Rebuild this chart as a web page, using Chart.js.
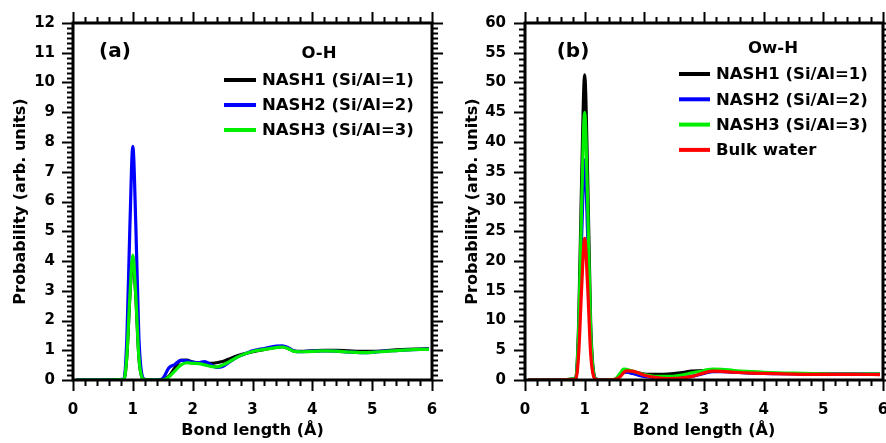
<!DOCTYPE html>
<html>
<head>
<meta charset="utf-8">
<script src="https://cdn.jsdelivr.net/npm/chart.js@4/dist/chart.umd.min.js"></script>
<style>
  html, body { margin: 0; padding: 0; background: #fff; overflow: hidden; }
  #wrap { display: flex; width: 886px; height: 443px; overflow: hidden; }
  canvas { display: block; flex: none; }
</style>
</head>
<body>
<div id="wrap">
  <canvas id="panelA" width="443" height="443"></canvas>
  <canvas id="panelB" width="463" height="443"></canvas>
</div>
<script>
// ---- data ----
const seriesNames = ["NASH1 (Si/Al=1)", "NASH2 (Si/Al=2)", "NASH3 (Si/Al=3)", "Bulk water"];
const xTickLabels = ["0", "1", "2", "3", "4", "5", "6"];

// (a) O-H
const xOH = [0.05, 0.5, 0.85, 0.9, 0.95, 1.0, 1.05, 1.1, 1.15, 1.2, 1.3, 1.4, 1.5, 1.6, 1.7, 1.8, 1.9, 2.0, 2.1, 2.2, 2.3,
  2.4, 2.5, 2.6, 2.7, 2.8, 2.9, 3.0, 3.2, 3.4, 3.5, 3.6, 3.7, 3.8, 4.0, 4.2, 4.4, 4.6, 4.8, 5.0, 5.2, 5.4, 5.6, 5.8, 5.95];
const nash1OH = [0, 0, 0.02, 0.8, 2.8, 4.1, 2.8, 0.8, 0.1, 0.01, 0, 0, 0.02, 0.12, 0.4, 0.66, 0.67, 0.6, 0.58, 0.58, 0.56,
  0.58, 0.62, 0.7, 0.78, 0.85, 0.9, 0.95, 1.03, 1.1, 1.12, 1.06, 0.97, 0.96, 0.98, 1.0, 1.0, 0.98, 0.96, 0.96, 0.98, 1.01, 1.03, 1.04, 1.05];
const nash2OH = [0, 0, 0.03, 1.4, 5.1, 7.85, 5.2, 1.5, 0.2, 0.02, 0, 0, 0.05, 0.4, 0.52, 0.66, 0.65, 0.6, 0.58, 0.62, 0.52,
  0.42, 0.45, 0.58, 0.72, 0.82, 0.9, 0.98, 1.06, 1.14, 1.15, 1.08, 0.97, 0.95, 0.97, 0.98, 0.97, 0.94, 0.92, 0.93, 0.97, 0.99, 1.01, 1.03, 1.04];
const nash3OH = [0, 0, 0.02, 0.8, 2.8, 4.2, 2.8, 0.8, 0.1, 0.01, 0, 0, 0, 0.1, 0.3, 0.5, 0.58, 0.56, 0.55, 0.51, 0.46,
  0.44, 0.5, 0.6, 0.72, 0.82, 0.9, 0.96, 1.03, 1.09, 1.11, 1.05, 0.96, 0.95, 0.96, 0.98, 0.97, 0.94, 0.92, 0.93, 0.96, 0.99, 1.01, 1.03, 1.03];
const yTicksOH = ["0", "1", "2", "3", "4", "5", "6", "7", "8", "9", "10", "11", "12"];

// (b) Ow-H
const xOwH = [0.05, 0.5, 0.85, 0.9, 0.95, 1.0, 1.05, 1.1, 1.15, 1.2, 1.3, 1.4, 1.5, 1.6, 1.65, 1.7, 1.8, 1.9, 2.0, 2.2,
  2.4, 2.6, 2.8, 3.0, 3.15, 3.3, 3.5, 3.8, 4.0, 4.5, 5.0, 5.5, 5.95];
const nash1OwH = [0, 0, 0.3, 9.7, 34, 51.3, 34, 9.7, 1.3, 0.1, 0, 0, 0.05, 0.9, 1.3, 1.5, 1.4, 1.2, 1.0, 0.95,
  1.0, 1.2, 1.5, 1.6, 1.6, 1.5, 1.35, 1.2, 1.15, 1.05, 1.0, 1.0, 1.0];
const nash2OwH = [0, 0, 0.2, 7, 24.4, 37, 24.4, 7, 0.9, 0.1, 0, 0, 0.05, 0.8, 1.2, 1.3, 1.1, 0.8, 0.6, 0.4,
  0.3, 0.35, 0.6, 1.1, 1.4, 1.4, 1.3, 1.2, 1.1, 1.05, 1.0, 1.0, 0.95];
const nash3OwH = [0, 0, 0.3, 8.5, 29.7, 45, 29.7, 8.5, 1.1, 0.1, 0, 0, 0.1, 1.2, 1.85, 1.8, 1.5, 1.2, 0.9, 0.6,
  0.6, 0.8, 1.2, 1.6, 1.85, 1.8, 1.6, 1.4, 1.3, 1.15, 1.05, 1.0, 1.0];
const bulkOwH = [0, 0, 0.15, 4.5, 15.7, 23.8, 15.7, 4.5, 0.6, 0.05, 0, 0, 0.05, 0.6, 1.2, 1.55, 1.5, 1.2, 0.8, 0.4,
  0.25, 0.3, 0.6, 1.2, 1.5, 1.45, 1.3, 1.15, 1.1, 1.0, 0.95, 0.95, 0.9];
const yTicksOwH = ["0", "5", "10", "15", "20", "25", "30", "35", "40", "45", "50", "55", "60"];

const colors = ["#000000", "#0000ff", "#00ee00", "#ff0000"];

Chart.defaults.font.family = "'DejaVu Sans', sans-serif";
Chart.defaults.font.weight = "bold";
Chart.defaults.color = "#000";

function pts(xs, ys) {
  return xs.map((x, i) => ({ x: x, y: ys[i] }));
}

// frame with outward ticks on all four sides
const framePlugin = {
  id: "frame",
  afterDraw(chart, args, o) {
    const { ctx, chartArea: a, scales: { x, y } } = chart;
    ctx.save();
    ctx.strokeStyle = "#000";
    ctx.lineWidth = 2;
    const nx = Math.round((x.max - x.min) / o.xMinor);
    for (let i = 0; i <= nx; i++) {
      const px = Math.round(x.getPixelForValue(x.min + i * o.xMinor)) + 0.5;
      const len = i % o.xPer === 0 ? 11 : 6;
      ctx.beginPath();
      ctx.moveTo(px, a.bottom); ctx.lineTo(px, a.bottom + len);
      ctx.moveTo(px, a.top); ctx.lineTo(px, a.top - len);
      ctx.stroke();
    }
    const ny = Math.round((y.max - y.min) / o.yMinor);
    for (let i = 0; i <= ny; i++) {
      const py = Math.round(y.getPixelForValue(y.min + i * o.yMinor)) + 0.5;
      const len = i % o.yPer === 0 ? 11 : 6;
      ctx.beginPath();
      ctx.moveTo(a.left, py); ctx.lineTo(a.left - len, py);
      ctx.moveTo(a.right, py); ctx.lineTo(a.right + len, py);
      ctx.stroke();
    }
    ctx.lineWidth = 3;
    ctx.strokeRect(a.left, a.top, a.right - a.left, a.bottom - a.top);
    ctx.restore();
  }
};

// panel tag, heading and in-plot legend
const notesPlugin = {
  id: "notes",
  afterDraw(chart, args, o) {
    const ctx = chart.ctx;
    ctx.save();
    ctx.fillStyle = "#000";
    ctx.textBaseline = "middle";
    ctx.textAlign = "center";
    ctx.font = "bold 20px 'DejaVu Sans'";
    ctx.fillText(o.tag, o.tagX, o.tagY);
    ctx.font = "bold 16.5px 'DejaVu Sans'";
    ctx.fillText(o.head, o.headX, o.headY);
    ctx.textAlign = "left";
    chart.data.datasets.forEach((ds, i) => {
      const yy = o.rowY + i * o.rowGap;
      ctx.strokeStyle = ds.borderColor;
      ctx.lineWidth = 4;
      ctx.beginPath();
      ctx.moveTo(o.lineX1, yy); ctx.lineTo(o.lineX2, yy);
      ctx.stroke();
      ctx.fillText(ds.label, o.textX, yy + 1);
    });
    ctx.restore();
  }
};

function makePanel(id, xs, seriesList, yMax, yStep, yTickLabels, yMinor, layout, notes) {
  const datasets = seriesList.map((ys, i) => ({
    label: seriesNames[i],
    data: pts(xs, ys),
    borderColor: colors[i],
    borderWidth: 3.2,
    pointRadius: 0,
    tension: 0.4,
    cubicInterpolationMode: "monotone",
    fill: false,
    order: seriesList.length - i
  }));
  return new Chart(document.getElementById(id), {
    type: "line",
    data: { datasets: datasets },
    plugins: [framePlugin, notesPlugin],
    options: {
      responsive: false,
      animation: false,
      layout: { padding: { top: 23, right: layout.right, left: 0, bottom: 0 } },
      plugins: {
        legend: { display: false },
        tooltip: { enabled: false },
        frame: { xMinor: 0.2, xPer: 5, yMinor: yMinor, yPer: Math.round(yStep / yMinor) },
        notes: notes
      },
      scales: {
        x: {
          type: "linear",
          min: 0, max: 6,
          grid: { display: false, drawTicks: true, tickLength: 21 },
          border: { display: false },
          ticks: {
            stepSize: 1,
            padding: 0,
            font: { size: 15, weight: "bold" },
            color: "#000",
            callback: (v) => xTickLabels[Math.round(v)]
          },
          title: { display: true, text: "Bond length (\u00c5)", font: { size: 16, weight: "bold" }, padding: { top: 0, bottom: 3 } },
          afterFit: (s) => { s.height = 63; }
        },
        y: {
          min: 0, max: yMax,
          grid: { display: false, drawTicks: true, tickLength: layout.yPad },
          border: { display: false },
          ticks: {
            stepSize: yStep,
            padding: 0,
            font: { size: 15, weight: "bold" },
            color: "#000",
            callback: (v) => yTickLabels[Math.round(v / yStep)]
          },
          title: { display: true, text: "Probability (arb. units)", font: { size: 16, weight: "bold" }, padding: { top: layout.titlePad, bottom: 0 } },
          afterFit: (s) => { s.width = layout.axisW; }
        }
      }
    }
  });
}

makePanel("panelA", xOH, [nash1OH, nash2OH, nash3OH], 12, 1, yTicksOH, 1 / 6,
  { right: 11, axisW: 73, yPad: 18, titlePad: 11 },
  { tag: "(a)", tagX: 115, tagY: 52, head: "O-H", headX: 319, headY: 54,
    lineX1: 224, lineX2: 256, textX: 262, rowY: 80, rowGap: 25 });

makePanel("panelB", xOwH, [nash1OwH, nash2OwH, nash3OwH, bulkOwH], 60, 5, yTicksOwH, 1,
  { right: 23, axisW: 82, yPad: 19, titlePad: 20 },
  { tag: "(b)", tagX: 130, tagY: 52, head: "Ow-H", headX: 330, headY: 49,
    lineX1: 236, lineX2: 267, textX: 273, rowY: 74, rowGap: 25.3 });
</script>
</body>
</html>
